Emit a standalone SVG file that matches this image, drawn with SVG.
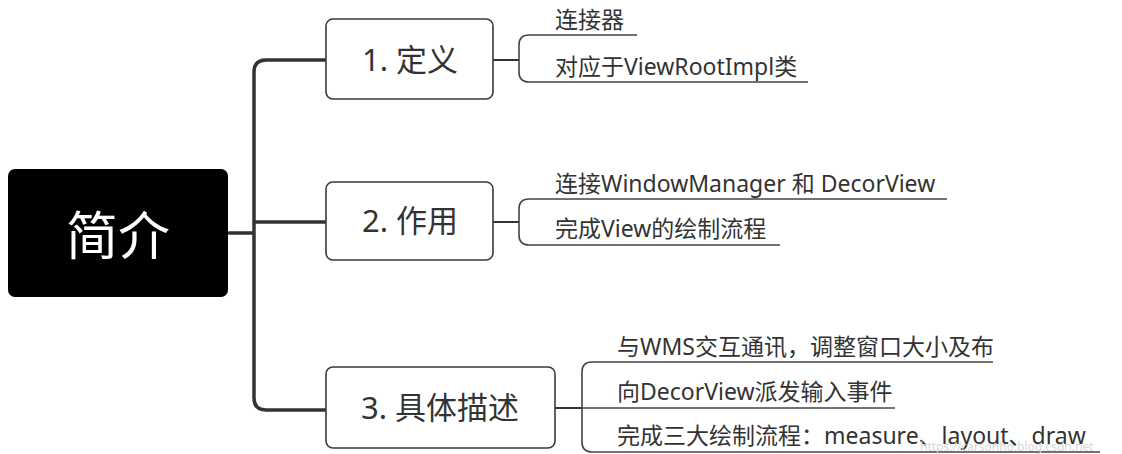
<svg xmlns="http://www.w3.org/2000/svg" width="1122" height="454" viewBox="0 0 1122 454">
<style>
.bg{fill:#ffffff}
.box{fill:#ffffff;stroke:#3a3a3a;stroke-width:1.6}
.root{fill:#000000}
.t{font-family:"Noto Sans","Noto Sans CJK SC",sans-serif;fill:#333333}
.bt{font-size:31px;text-anchor:middle;dominant-baseline:central}
.lt{font-size:23px}
.rt{font-family:"Noto Sans CJK SC",sans-serif;font-size:52px;fill:#ffffff;text-anchor:middle;dominant-baseline:central}
.trunk{fill:none;stroke:#333333;stroke-width:3.5}
.conn{fill:none;stroke:#333333;stroke-width:2}
.ul{fill:none;stroke:#444444;stroke-width:1.6}
.wm{font-family:"Noto Sans",sans-serif;font-size:12px;fill:#d8d8d8}
</style>
<rect class="bg" x="0" y="0" width="1122" height="454"/>
<g id="connectors">
<path class="trunk" d="M228 233 H254"/>
<path class="trunk" d="M327 60 H266 Q254 60 254 72 V398 Q254 410 266 410 H327"/>
<path class="trunk" d="M254 222 H327"/>
<path class="conn" d="M493 60 H519"/>
<path class="conn" d="M493 222 H519"/>
<path class="conn" d="M555 408 H582"/>
<path class="ul" d="M637 35 H529 Q519 35 519 45 V72 Q519 82 529 82 H808"/>
<path class="ul" d="M947 199 H529 Q519 199 519 209 V235 Q519 245 529 245 H780"/>
<path class="ul" d="M993 362 H592 Q582 362 582 372 V442 Q582 452 592 452 H1100"/>
<path class="ul" d="M582 408 H895"/>
</g>
<g id="root">
<rect class="root" x="8" y="169" width="220" height="128" rx="7"/>
<text class="rt" x="118" y="232">简介</text>
</g>
<g id="n1">
<rect class="box" x="326" y="19" width="167" height="80" rx="7"/>
<text class="t bt" x="410" y="59">1. 定义</text>
</g>
<g id="n2">
<rect class="box" x="326" y="182" width="167" height="78" rx="7"/>
<text class="t bt" x="410" y="220">2. 作用</text>
</g>
<g id="n3">
<rect class="box" x="326" y="367" width="229" height="81" rx="7"/>
<text class="t bt" x="440" y="407">3. 具体描述</text>
</g>
<g id="l1a"><text class="t lt" x="555" y="28">连接器</text></g>
<g id="l1b"><text class="t lt" x="555" y="75">对应于ViewRootImpl类</text></g>
<g id="l2a"><text class="t lt" x="555" y="192">连接WindowManager 和 DecorView</text></g>
<g id="l2b"><text class="t lt" x="555" y="237">完成View的绘制流程</text></g>
<g id="l3a"><text class="t lt" x="617" y="355">与WMS交互通讯，调整窗口大小及布</text></g>
<g id="l3b"><text class="t lt" x="617" y="400">向DecorView派发输入事件</text></g>
<g id="l3c"><text class="t lt" x="617" y="444">完成三大绘制流程：measure、layout、draw</text></g>
<text class="wm" x="920" y="451">https://carsonho.blog.csdn.net</text>
</svg>
